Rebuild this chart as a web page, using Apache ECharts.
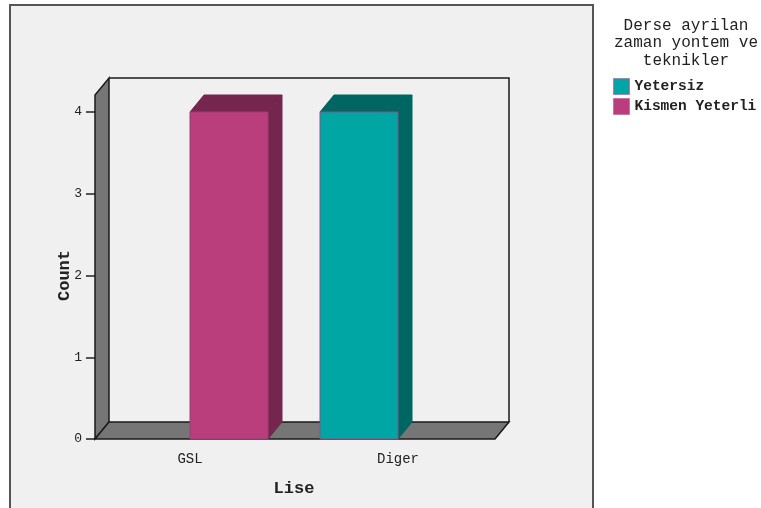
<!DOCTYPE html>
<html>
<head>
<meta charset="utf-8">
<script src="https://cdn.jsdelivr.net/npm/echarts@6/dist/echarts.min.js"></script>
<style>html,body{margin:0;padding:0;background:#fff;}#c{width:761px;height:508px;}</style>
</head>
<body>
<div id="c"></div>
<script>
const categories = ['GSL', 'Diger'];
const seriesNames = ['Yetersiz', 'Kismen Yeterli'];
const yetersiz = [0, 4];
const kismenYeterli = [4, 0];
const yTicks = [0, 1, 2, 3, 4];
const legendTitle = 'Derse ayrilan\nzaman yontem ve\nteknikler';

const FONT = '"Liberation Mono", "DejaVu Sans Mono", monospace';
const DX = 14, DY = 17;
const colors = [
  { front: '#00A6A3', dark: '#006661', edge: '#9A4B86' },
  { front: '#BA3E7C', dark: '#74264F', edge: '#9A3E76' }
];

function barRenderer(si) {
  return function (params, api) {
    const cat = api.value(0), v = api.value(1);
    if (!v) return null;
    const top = api.coord([cat, v]);
    const base = api.coord([cat, 0]);
    const band = api.size([1, 0])[0];
    const w = band * 0.375;
    const x0 = si === 0 ? top[0] - w : top[0];
    const x1 = x0 + w;
    const yT = top[1], yB = base[1];
    const c = colors[si];
    return {
      type: 'group',
      children: [
        { type: 'polygon', shape: { points: [[x0, yT], [x0 + DX, yT - DY], [x1 + DX, yT - DY], [x1, yT]] },
          style: { fill: c.dark, stroke: c.dark, lineWidth: 1 } },
        { type: 'polygon', shape: { points: [[x1, yT], [x1 + DX, yT - DY], [x1 + DX, yB - DY], [x1, yB]] },
          style: { fill: c.dark, stroke: c.dark, lineWidth: 1 } },
        { type: 'rect', shape: { x: x0, y: yT, width: w, height: yB - yT },
          style: { fill: c.front, stroke: c.edge, lineWidth: 1 } }
      ]
    };
  };
}

function wallRenderer(params, api) {
  const cs = params.coordSys;
  const fl = cs.x + 9, fr = cs.x + cs.width - 7;
  const fb = cs.y + cs.height, ft = cs.y - 17;
  const bl = fl + DX, br = fr + DX, bb = fb - DY, bt = ft - DY;
  const line = '#1a1a1a';
  return {
    type: 'group',
    children: [
      { type: 'polyline', shape: { points: [[bl, bt], [br, bt], [br, bb]] },
        style: { fill: null, stroke: line, lineWidth: 1.5 } },
      { type: 'polygon', shape: { points: [[fl, fb], [fl, ft], [bl, bt], [bl, bb]] },
        style: { fill: '#767676', stroke: line, lineWidth: 1.5 } },
      { type: 'polygon', shape: { points: [[fl, fb], [bl, bb], [br, bb], [fr, fb]] },
        style: { fill: '#767676', stroke: line, lineWidth: 1.5 } }
    ]
  };
}

const chart = echarts.init(document.getElementById('c'), null, { renderer: 'canvas' });
chart.setOption({
  backgroundColor: '#ffffff',
  animation: false,
  graphic: [
    { type: 'rect', z: -10, shape: { x: 10, y: 5, width: 583, height: 515 },
      style: { fill: '#F0F0F0', stroke: '#555555', lineWidth: 2 } },
    { type: 'text', x: 686, y: 17,
      style: { text: legendTitle, fontFamily: FONT, fontSize: 16, lineHeight: 17.5,
               align: 'center', verticalAlign: 'top', fill: '#222' } }
  ],
  legend: {
    orient: 'vertical', left: 613, top: 78, padding: 0, itemWidth: 16, itemHeight: 16, itemGap: 3,
    icon: 'rect',
    textStyle: { fontFamily: FONT, fontSize: 14.5, fontWeight: 'bold', color: '#222' },
    data: [
      { name: seriesNames[0], itemStyle: { color: colors[0].front, borderColor: '#C874A8', borderWidth: 1 } },
      { name: seriesNames[1], itemStyle: { color: colors[1].front, borderColor: '#C874A8', borderWidth: 1 } }
    ]
  },
  grid: { left: 86, right: 259, top: 112, bottom: 69, containLabel: false },
  xAxis: {
    type: 'category', data: categories,
    axisLine: { show: false },
    axisTick: { alignWithLabel: true, length: 8, lineStyle: { color: '#222', width: 1.5 } },
    axisLabel: { margin: 13, fontFamily: FONT, fontSize: 14, color: '#222' },
    name: 'Lise', nameLocation: 'middle', nameGap: 41, nameMoveOverlap: false,
    nameTextStyle: { fontFamily: FONT, fontSize: 17, fontWeight: 'bold', color: '#222' },
    splitLine: { show: false }
  },
  yAxis: {
    type: 'value', min: yTicks[0], max: yTicks[yTicks.length - 1], interval: 1,
    offset: -9,
    axisLine: { show: false },
    axisTick: { show: true, length: 9, lineStyle: { color: '#222', width: 1.5 } },
    axisLabel: { margin: 13, fontFamily: FONT, fontSize: 13, color: '#222' },
    splitLine: { show: false },
    name: 'Count', nameLocation: 'middle', nameGap: 22, nameMoveOverlap: false,
    nameTextStyle: { fontFamily: FONT, fontSize: 17, fontWeight: 'bold', color: '#222' }
  },
  series: [
    { type: 'custom', name: '_walls', silent: true, z: 1, renderItem: wallRenderer,
      data: [[0, 0]], encode: { x: 0, y: 1 } },
    { type: 'custom', name: seriesNames[0], z: 2, renderItem: barRenderer(0),
      itemStyle: { color: colors[0].front },
      data: yetersiz.map((v, i) => [i, v]), encode: { x: 0, y: 1 } },
    { type: 'custom', name: seriesNames[1], z: 2, renderItem: barRenderer(1),
      itemStyle: { color: colors[1].front },
      data: kismenYeterli.map((v, i) => [i, v]), encode: { x: 0, y: 1 } }
  ]
});
</script>
</body>
</html>
